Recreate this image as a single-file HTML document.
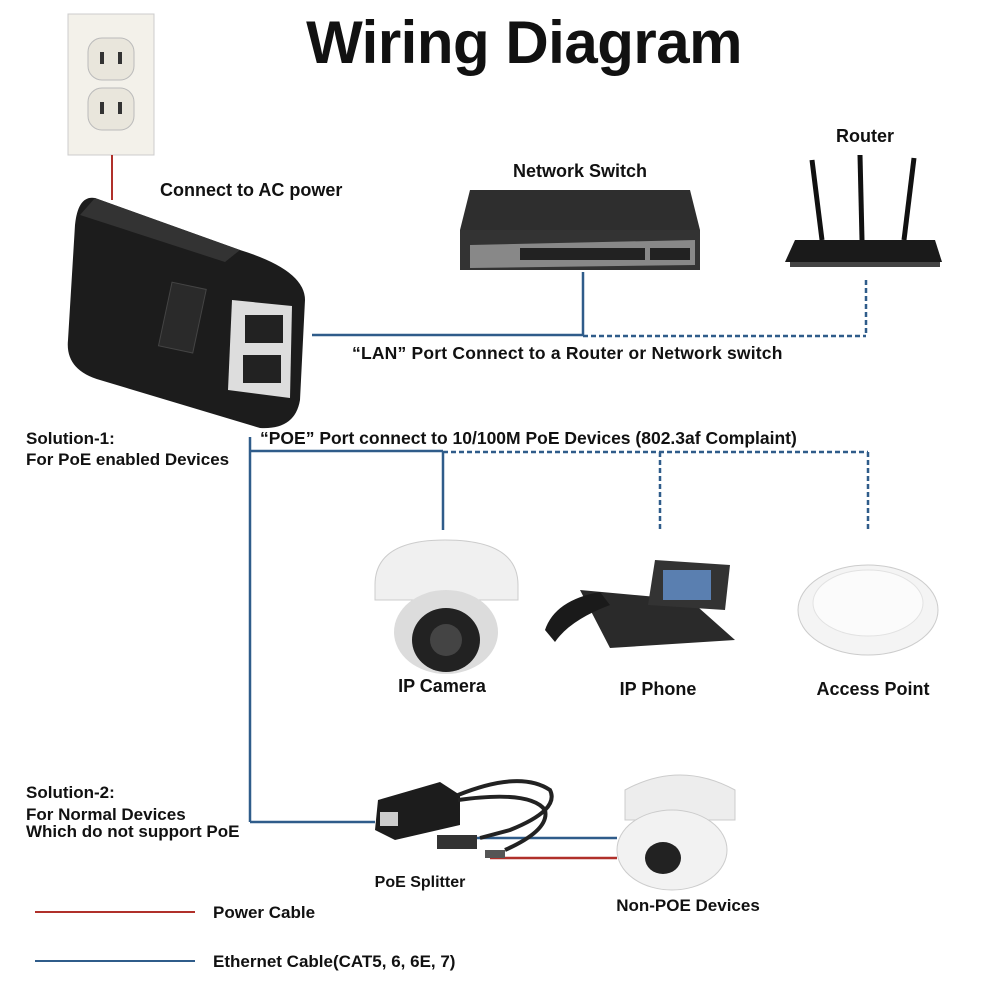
<!DOCTYPE html>
<html><head><meta charset="utf-8"><style>
html,body{margin:0;padding:0;background:#fff}
svg{display:block}
text{font-family:"Liberation Sans",sans-serif;font-weight:bold;fill:#111}
</style></head><body>
<svg width="1000" height="1000" viewBox="0 0 1000 1000">
<rect width="1000" height="1000" fill="#fff"/>
<text x="524" y="63" font-size="60" text-anchor="middle" letter-spacing="-0.5">Wiring Diagram</text>
<!-- outlet -->
<rect x="68" y="14" width="86" height="141" fill="#f3f1ea" stroke="#ccc"/>
<rect x="88" y="38" width="46" height="42" rx="14" fill="#e9e6dc" stroke="#bbb"/>
<rect x="88" y="88" width="46" height="42" rx="14" fill="#e9e6dc" stroke="#bbb"/>
<rect x="100" y="52" width="4" height="12" fill="#333"/><rect x="118" y="52" width="4" height="12" fill="#333"/>
<rect x="100" y="102" width="4" height="12" fill="#333"/><rect x="118" y="102" width="4" height="12" fill="#333"/>
<line x1="112" y1="155" x2="112" y2="200" stroke="#b0302a" stroke-width="2"/>
<text x="160" y="196" font-size="18">Connect to AC power</text>
<!-- adapter -->
<path d="M95 198 L240 250 Q305 270 305 300 L300 400 Q295 430 260 428 L100 380 Q65 370 68 340 L75 225 Q78 195 95 198 Z" fill="#1c1c1c"/>
<path d="M95 198 L240 250 L225 262 L80 215 Z" fill="#333"/>
<rect x="165" y="285" width="35" height="65" fill="#2a2a2a" stroke="#444" transform="rotate(12 182 317)"/>
<path d="M232 300 L292 306 L290 398 L228 390 Z" fill="#ddd"/>
<rect x="245" y="315" width="38" height="28" fill="#222"/>
<rect x="243" y="355" width="38" height="28" fill="#222"/>
<!-- switch -->
<path d="M470 190 L690 190 L700 230 L460 230 Z" fill="#2e2e2e"/>
<rect x="460" y="230" width="240" height="40" fill="#333"/>
<path d="M470 245 L695 240 L695 265 L470 268 Z" fill="#888"/>
<rect x="520" y="248" width="125" height="12" fill="#222"/>
<rect x="650" y="248" width="40" height="12" fill="#222"/>
<text x="513" y="177" font-size="18">Network Switch</text>
<!-- router -->
<text x="836" y="142" font-size="18">Router</text>
<line x1="812" y1="160" x2="822" y2="240" stroke="#111" stroke-width="5"/>
<line x1="860" y1="155" x2="862" y2="240" stroke="#111" stroke-width="5"/>
<line x1="914" y1="158" x2="904" y2="240" stroke="#111" stroke-width="5"/>
<path d="M795 240 L935 240 L942 262 L785 262 Z" fill="#1a1a1a"/>
<rect x="790" y="262" width="150" height="5" fill="#444"/>
<!-- LAN lines -->
<g stroke="#2f5c8a" stroke-width="2.5" fill="none">
<line x1="312" y1="335" x2="583" y2="335"/>
<line x1="583" y1="272" x2="583" y2="335"/>
<line x1="583" y1="336" x2="866" y2="336" stroke-dasharray="5 3"/>
<line x1="866" y1="280" x2="866" y2="336" stroke-dasharray="5 3"/>
<line x1="250" y1="451" x2="443" y2="451"/>
<line x1="443" y1="451" x2="443" y2="530"/>
<line x1="443" y1="452" x2="868" y2="452" stroke-dasharray="5 3"/>
<line x1="660" y1="452" x2="660" y2="530" stroke-dasharray="5 3"/>
<line x1="868" y1="452" x2="868" y2="530" stroke-dasharray="5 3"/>
<line x1="250" y1="437" x2="250" y2="822"/>
<line x1="250" y1="822" x2="375" y2="822"/>
<line x1="460" y1="838" x2="617" y2="838"/>
</g>
<line x1="490" y1="858" x2="617" y2="858" stroke="#b0302a" stroke-width="2.5"/>
<text x="352" y="359" font-size="17.5" letter-spacing="0.2">“LAN” Port Connect to a Router or Network switch</text>
<text x="260" y="444" font-size="17.5">“POE” Port connect to 10/100M PoE Devices (802.3af Complaint)</text>
<text x="26" y="444" font-size="17">Solution-1:</text>
<text x="26" y="465" font-size="17">For PoE enabled Devices</text>
<!-- IP camera -->
<path d="M375 585 Q375 540 445 540 Q518 540 518 585 L518 600 L375 600 Z" fill="#f0f0f0" stroke="#ccc"/>
<ellipse cx="446" cy="632" rx="52" ry="42" fill="#dcdcdc"/>
<ellipse cx="446" cy="640" rx="34" ry="32" fill="#222"/>
<circle cx="446" cy="640" r="16" fill="#444"/>
<text x="442" y="692" font-size="18" text-anchor="middle">IP Camera</text>
<!-- IP phone -->
<path d="M580 590 L690 600 L735 640 L610 648 Z" fill="#2a2a2a"/>
<path d="M655 560 L730 565 L725 610 L648 605 Z" fill="#333"/>
<rect x="663" y="570" width="48" height="30" fill="#5a7fb0"/>
<path d="M545 630 Q555 600 600 592 L610 605 Q570 620 555 642 Z" fill="#1a1a1a"/>
<text x="658" y="695" font-size="18" text-anchor="middle">IP Phone</text>
<!-- AP -->
<ellipse cx="868" cy="610" rx="70" ry="45" fill="#f4f4f4" stroke="#ccc"/>
<ellipse cx="868" cy="603" rx="55" ry="33" fill="#fbfbfb" stroke="#e2e2e2"/>
<text x="873" y="695" font-size="18" text-anchor="middle">Access Point</text>
<!-- solution 2 -->
<text x="26" y="798" font-size="17">Solution-2:</text>
<text x="26" y="820" font-size="17">For Normal Devices</text>
<text x="26" y="837" font-size="17">Which do not support PoE</text>
<!-- splitter -->
<path d="M378 800 L440 782 L460 795 L460 825 L395 840 L375 830 Z" fill="#1c1c1c"/>
<rect x="380" y="812" width="18" height="14" fill="#ccc"/>
<path d="M458 795 Q520 770 550 790 Q560 810 510 830 L480 838" stroke="#222" stroke-width="4" fill="none"/>
<path d="M458 800 Q530 790 545 810 Q550 830 505 850" stroke="#222" stroke-width="4" fill="none"/>
<rect x="437" y="835" width="40" height="14" fill="#333"/>
<rect x="485" y="850" width="20" height="8" fill="#555"/>
<text x="420" y="887" font-size="16" text-anchor="middle">PoE Splitter</text>
<!-- turret -->
<path d="M625 790 Q680 760 735 790 L735 820 L625 820 Z" fill="#ededed" stroke="#ccc"/>
<ellipse cx="672" cy="850" rx="55" ry="40" fill="#f2f2f2" stroke="#ccc"/>
<ellipse cx="663" cy="858" rx="18" ry="16" fill="#222"/>
<text x="688" y="911" font-size="17" text-anchor="middle">Non-POE Devices</text>
<!-- legend -->
<line x1="35" y1="912" x2="195" y2="912" stroke="#b0302a" stroke-width="2"/>
<text x="213" y="918" font-size="17">Power Cable</text>
<line x1="35" y1="961" x2="195" y2="961" stroke="#2f5c8a" stroke-width="2"/>
<text x="213" y="967" font-size="17">Ethernet Cable(CAT5, 6, 6E, 7)</text>
</svg>
</body></html>
